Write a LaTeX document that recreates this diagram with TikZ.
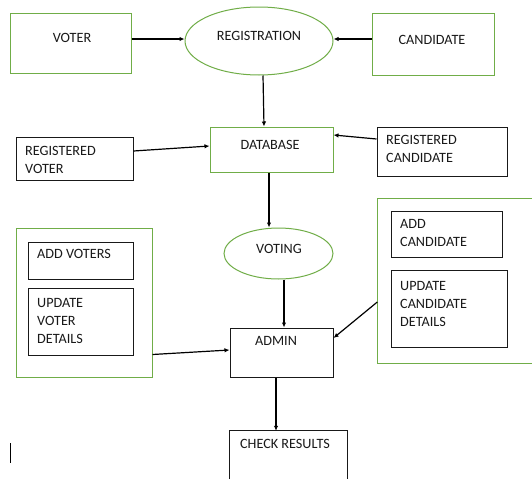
\documentclass[tikz,border=0pt]{standalone}
\usepackage{fontspec}
\setmainfont{Carlito}
\usetikzlibrary{arrows.meta,shapes.geometric}
\definecolor{boxgreen}{RGB}{112,173,71}
\definecolor{inkgray}{RGB}{25,25,25}
\begin{document}
\begin{tikzpicture}[x=1pt, y=-1pt,
                box/.style = {draw=inkgray, line width=1pt, rectangle, inner sep=0pt},
                grpbox/.style = {draw=boxgreen, line width=1pt, rectangle, inner sep=0pt},
                proc/.style = {draw=boxgreen, line width=1pt, ellipse, inner sep=0pt},
                lbl/.style = {inner sep=0pt, text=inkgray, align=left,
                              font=\fontsize{14.2}{18}\selectfont},
                arr/.style = {draw=black, line width=1.2pt, -{Latex[length=5pt,width=4.5pt]}},
            ]
            \useasboundingbox (0,0) rectangle (532,479);
            \fill[white] (0,0) rectangle (532,479);

            % top row
            \node (voter) at (70.5,43) [grpbox, minimum width=121, minimum height=60] {}; \node (voterlbl) at (72,38) [lbl] {VOTER};
            \node (reg) at (259,41) [proc, minimum width=148, minimum height=68] {}; \node (reglbl) at (259,36) [lbl] {REGISTRATION};
            \node (cand) at (433,44) [grpbox, minimum width=122, minimum height=62] {}; \node (candlbl) at (432,40) [lbl] {CANDIDATE};

            % database row
            \node (db) at (271.5,149.5) [grpbox, minimum width=123, minimum height=45] {}; \node (dblbl) at (270,145) [lbl] {DATABASE};
            \node (regvoter) at (74.5,158.5) [box, minimum width=117, minimum height=43] {}; \node (regvoterlbl) at (25,159.5) [lbl, anchor=west] {REGISTERED\\VOTER};
            \node (regcand) at (442,151.5) [box, minimum width=130, minimum height=49] {}; \node (regcandlbl) at (386,149) [lbl, anchor=west] {REGISTERED\\CANDIDATE};

            % voting and admin
            \node (voting) at (278.5,253.5) [proc, minimum width=109, minimum height=51] {}; \node (votinglbl) at (279,249) [lbl] {VOTING};
            \node (admin) at (281.5,352.5) [box, minimum width=103, minimum height=49] {}; \node (adminlbl) at (276,341) [lbl] {ADMIN};

            % voter side
            \node (leftgrp) at (84,302.5) [grpbox, minimum width=136, minimum height=149] {};
            \node (addvoters) at (80.5,260.5) [box, minimum width=105, minimum height=37] {}; \node (addvoterslbl) at (37,254) [lbl, anchor=west] {ADD VOTERS};
            \node (updvoter) at (80.5,321.5) [box, minimum width=105, minimum height=67] {}; \node (updvoterlbl) at (37,320.5) [lbl, anchor=west] {UPDATE\\VOTER\\DETAILS};

            % candidate side, cut off by the right margin
            \node (rightgrp) at (454.75,281) [inner sep=0pt, minimum width=154.5, minimum height=164] {};
            \draw[boxgreen, line width=1pt] (rightgrp.north east) -- (rightgrp.north west) -- (rightgrp.south west) -- (rightgrp.south east);
            \node (addcand) at (446.5,234) [box, minimum width=111, minimum height=46] {}; \node (addcandlbl) at (400,233) [lbl, anchor=west] {ADD\\CANDIDATE};
            \node (updcand) at (449,308.5) [box, minimum width=116, minimum height=77] {}; \node (updcandlbl) at (400,303.5) [lbl, anchor=west] {UPDATE\\CANDIDATE\\DETAILS};

            % results, cut off by the bottom margin
            \node (check) at (288.5,455) [inner sep=0pt, minimum width=117, minimum height=48] {};
            \draw[inkgray, line width=1pt] (check.south west) -- (check.north west) -- (check.north east) -- (check.south east);
            \node (checklbl) at (285,444) [lbl] {CHECK RESULTS};

            \draw[arr] ([yshift=4]voter.east) -- ([yshift=2]reg.west);
            \draw[arr] ([yshift=5]cand.west) -- ([yshift=2]reg.east);
            \draw[arr] ([xshift=4]reg.south) -- ([xshift=-7.5]db.north);
            \draw[arr] ([yshift=7.5]regvoter.east) -- ([yshift=3.5]db.west);
            \draw[arr] ([yshift=12.5]regcand.west) -- ([yshift=14.5]db.east);
            \draw[arr] ([xshift=-2.5]db.south) -- ([xshift=-9.5]voting.north);
            \draw[arr] ([xshift=5.5]voting.south) -- ([xshift=2.5]admin.north);
            \draw[arr] ([yshift=23]leftgrp.south east) -- ([yshift=2.5]admin.west);
            \draw[arr] ([yshift=-21]rightgrp.west) -- ([yshift=14.5]admin.east);
            \draw[arr] ([xshift=-5.5]admin.south) -- ([xshift=-12.5]check.north);

            \draw[line width=1pt] (10,443) -- (10,463);
        \end{tikzpicture}
\end{document}
